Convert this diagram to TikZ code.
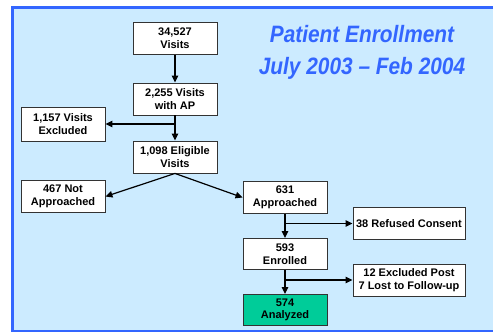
\documentclass[tikz,border=0pt]{standalone}
\usepackage{fontspec}
\setmainfont{Liberation Sans}
\usetikzlibrary{arrows.meta}
\definecolor{bgblue}{RGB}{204,235,255}
\definecolor{frameblue}{RGB}{51,102,255}
\definecolor{titleblue}{RGB}{51,102,255}
\definecolor{boxgreen}{RGB}{0,204,153}
\definecolor{boxline}{RGB}{51,51,51}
\begin{document}
\begin{tikzpicture}[x=1pt,y=-1pt,
  box/.style={draw=boxline, line width=0.9pt, fill=white, minimum width=84pt, minimum height=32pt,
    inner sep=0pt, align=center, font=\fontsize{11}{12.7}\selectfont\bfseries},
  widebox/.style={box, minimum width=112pt},
  arr/.style={line width=1.2pt, -{Triangle[length=7pt,width=6.5pt]}},
  ttl/.style={anchor=base, text=titleblue, inner sep=0pt, font=\fontsize{23.7}{32}\selectfont\bfseries\itshape}]
\useasboundingbox (0,0) rectangle (493,332);
\fill[white] (0,0) rectangle (493,332);
\draw[frameblue, line width=3pt, fill=bgblue] (12,7.5) rectangle (510,331);

\node[ttl] (t1) at (362,42) {\scalebox{0.88}[1]{Patient Enrollment}};
\node[ttl] (t2) at (362,74) {\scalebox{0.88}[1]{July 2003 – Feb 2004}};

\node[box] (v1) at (175,38.5) {34,527\\Visits};
\node[box] (v2) at (175,99) {2,255 Visits\\with AP};
\node[box, minimum height=34pt] (ex) at (63,124) {1,157 Visits\\Excluded};
\node[box] (el) at (175,157) {1,098 Eligible\\Visits};
\node[box] (na) at (63,196.5) {467 Not\\Approached};
\node[box] (ap) at (285,197.5) {631\\Approached};
\node[box, minimum height=31pt] (en) at (285,254) {593\\Enrolled};
\node[box, minimum height=31pt, fill=boxgreen] (an) at (285,310) {574\\Analyzed};
\node[widebox] (rf) at (409,223.5) {38 Refused Consent};
\node[widebox] (lo) at (409,280) {12 Excluded Post\\7 Lost to Follow-up};

\coordinate (b1) at (v2.south |- ex.east);
\coordinate (b2) at (ap.south |- rf.west);
\coordinate (b3) at (en.south |- lo.west);

\draw[arr] (v1) -- (v2);
\draw[arr] (v2) -- (el);
\draw[arr] (b1) -- (ex.east);
\draw[arr] (el.south) -- (na.east);
\draw[arr] (el.south) -- (ap.west);
\draw[arr] (ap) -- (en);
\draw[arr] (b2) -- (rf.west);
\draw[arr] (en) -- (an);
\draw[arr] (b3) -- (lo.west);
\end{tikzpicture}
\end{document}
